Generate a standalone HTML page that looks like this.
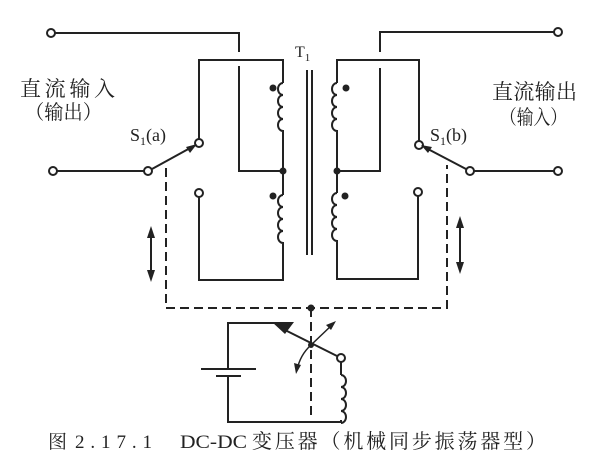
<!DOCTYPE html>
<html><head><meta charset="utf-8"><style>
html,body{margin:0;padding:0;background:#fff;}
svg{display:block;}
text{font-family:"Liberation Serif","Noto Serif CJK SC",serif;fill:#222;}
text.c{font-family:"Noto Serif CJK SC","Noto Sans CJK SC",serif;}
</style></head><body>
<svg width="600" height="476" viewBox="0 0 600 476" xmlns="http://www.w3.org/2000/svg">
<g stroke="#222" stroke-width="2" fill="none">
<path d="M55 33 H239 V52"/>
<circle cx="51" cy="33" r="4" fill="#fff"/>
<path d="M199 139 V60 H283 V83"/>
<path d="M283 83 a5 6 0 0 0 0 12 a5 6 0 0 0 0 12 a5 6 0 0 0 0 12 a5 6 0 0 0 0 12 V171"/>
<path d="M239 66 V171 H283 V195"/>
<path d="M283 195 a5 6 0 0 0 0 12 a5 6 0 0 0 0 12 a5 6 0 0 0 0 12 a5 6 0 0 0 0 12 V280 H199 V197"/>
<circle cx="199" cy="143" r="4" fill="#fff"/>
<circle cx="199" cy="193" r="4" fill="#fff"/>
<path d="M57 171 H144"/>
<circle cx="53" cy="171" r="4" fill="#fff"/>
<circle cx="148" cy="171" r="4" fill="#fff"/>
<path d="M152 169 L192 147"/>
<path d="M554 32 H380 V52"/>
<circle cx="558" cy="32" r="4" fill="#fff"/>
<path d="M419 141 V60 H337 V83"/>
<path d="M337 83 a5 6 0 0 0 0 12 a5 6 0 0 0 0 12 a5 6 0 0 0 0 12 a5 6 0 0 0 0 12 V171"/>
<path d="M380 68 V171 H337 V193"/>
<path d="M337 193 a5 6 0 0 0 0 12 a5 6 0 0 0 0 12 a5 6 0 0 0 0 12 a5 6 0 0 0 0 12 V279 H418 V196"/>
<circle cx="419" cy="145" r="4" fill="#fff"/>
<circle cx="418" cy="192" r="4" fill="#fff"/>
<path d="M474 171 H554"/>
<circle cx="558" cy="171" r="4" fill="#fff"/>
<circle cx="470" cy="171" r="4" fill="#fff"/>
<path d="M466 169 L426 148"/>
<path d="M307 70 V255 M312 70 V255"/>
<path d="M166 168 V308 H447 V165" stroke-dasharray="9,5"/>
<path d="M311 308 V420" stroke-dasharray="9,5"/>
<path d="M151 234 V274 M460 224 V266"/>
<path d="M278 323 H228 V370"/>
<path d="M201 369 H256 M216 376 H241"/>
<path d="M228 376 V422 H341 V420"/>
<path d="M285 330 L337 356"/>
<path d="M341 362 V375"/>
<path d="M341 375 a5 6 0 0 1 0 12 a5 6 0 0 1 0 12 a5 6 0 0 1 0 12 a5 6 0 0 1 0 12"/>
<circle cx="341" cy="358" r="4" fill="#fff"/>
<path d="M311 345 L333 324 M311 345 Q300 355 297 370" stroke-width="1.5"/>
</g>
<g fill="#222">
<circle cx="273" cy="88" r="3.5"/><circle cx="273" cy="196" r="3.5"/>
<circle cx="283" cy="171" r="3.5"/>
<circle cx="346" cy="88" r="3.5"/><circle cx="345" cy="196" r="3.5"/>
<circle cx="337" cy="171" r="3.5"/>
<circle cx="311" cy="308" r="3.5"/>
<polygon points="197,144 186,147 190,153"/>
<polygon points="421,145 432,147 428,153"/>
<polygon points="151,226 147,238 155,238"/>
<polygon points="151,282 147,270 155,270"/>
<polygon points="460,216 456,228 464,228"/>
<polygon points="460,274 456,262 464,262"/>
<polygon points="272,322 294,322 285,334"/>
<polygon points="336,321 326,325 331,330"/>
<polygon points="296,374 294,363 301,365"/>
<circle cx="311" cy="345" r="3"/>
</g>
<text class="c" x="20" y="96" font-size="21" textLength="95" lengthAdjust="spacing">直流输入</text>
<text class="c" x="25" y="119" font-size="20" textLength="77" lengthAdjust="spacingAndGlyphs">（输出）</text>
<text class="c" x="492" y="99" font-size="21" textLength="85" lengthAdjust="spacing">直流输出</text>
<text class="c" x="500" y="124" font-size="20" textLength="67" lengthAdjust="spacingAndGlyphs">（输入）</text>
<text x="130" y="141" font-size="18">S<tspan font-size="12" dy="4">1</tspan><tspan dy="-4">(a)</tspan></text>
<text x="430" y="141" font-size="18">S<tspan font-size="12" dy="4">1</tspan><tspan dy="-4">(b)</tspan></text>
<text x="295" y="57" font-size="16">T<tspan font-size="11" dy="4">1</tspan></text>
<text class="c" x="48" y="448" font-size="19">图</text>
<text x="75" y="448" font-size="19" textLength="77" lengthAdjust="spacing">2.17.1</text>
<text x="180" y="448" font-size="19" textLength="67" lengthAdjust="spacingAndGlyphs">DC-DC</text>
<text class="c" x="252" y="448" font-size="20" textLength="294" lengthAdjust="spacing">变压器（机械同步振荡器型）</text>
</svg>
</body></html>
